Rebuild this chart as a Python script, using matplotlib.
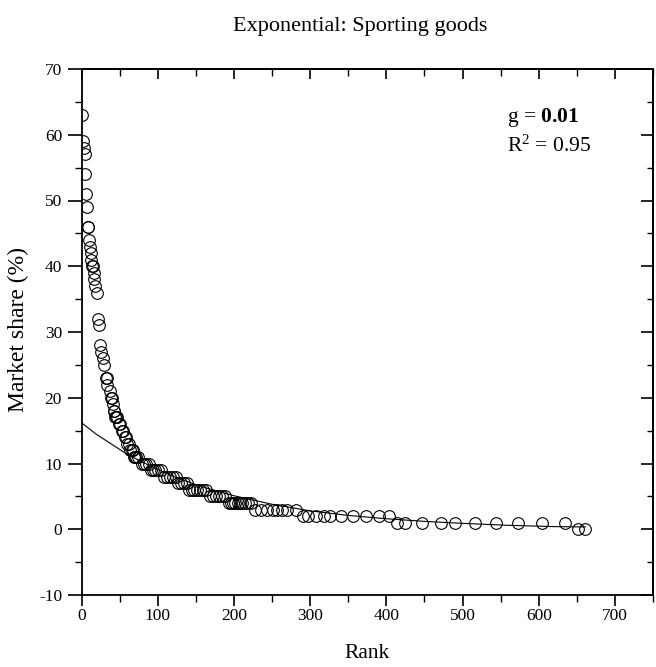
import matplotlib
matplotlib.use("Agg")
import matplotlib.pyplot as plt
from matplotlib.ticker import MultipleLocator

plt.rcParams['font.family'] = ['Liberation Serif', 'DejaVu Serif']
plt.rcParams['mathtext.fontset'] = 'custom'
plt.rcParams['mathtext.rm'] = 'Liberation Serif'
plt.rcParams['mathtext.it'] = 'Liberation Serif:italic'
plt.rcParams['mathtext.bf'] = 'Liberation Serif:bold'
plt.rcParams['axes.unicode_minus'] = False

# ---- data ----
share_rows = {
    63: [1], 59: [2], 58: [3], 57: [4], 54: [5], 51: [6], 49: [7],
    46: [8, 9], 44: [10], 43: [11], 42: [12], 41: [13], 40: [14, 15],
    39: [16], 38: [17], 37: [18], 36: [20], 32: [21], 31: [23],
    28: [24], 27: [26], 26: [28], 25: [30], 23: [32, 33], 22: [34],
    21: [37], 20: [39, 40], 19: [41], 18: [42, 43], 17: [44, 45, 47],
    16: [49, 51], 15: [53, 55], 14: [57, 58], 13: [60, 62],
    12: [64, 66, 68], 11: [69, 70, 72, 74], 10: [79, 82, 85, 88],
    9: [91, 94, 97, 100, 104], 8: [108, 112, 116, 120, 124],
    7: [127, 131, 135, 139], 6: [141, 145, 148, 152, 156, 160, 164],
    5: [168, 172, 176, 180, 184, 188],
    4: [193, 196, 199, 202, 205, 208, 211, 214, 218, 222],
    3: [228, 236, 244, 251, 257, 263, 270, 281],
    2: [291, 297, 308, 318, 326, 340, 356, 373, 390, 404],
    1: [414, 425, 447, 472, 490, 516, 544, 573, 604, 634],
    0: [652, 661],
}
rank = []
share = []
for v, rs in share_rows.items():
    for r in rs:
        rank.append(r)
        share.append(v)

fit_rank = [0, 20, 40, 60, 80, 100, 130, 160, 200, 250, 300, 350, 400, 450, 500, 560, 620, 661]
fit_share = [16.2, 14.4, 12.9, 11.4, 10.2, 9.1, 7.6, 6.4, 5.1, 3.8, 2.8, 2.1, 1.6, 1.2, 0.9, 0.6, 0.4, 0.35]

title = "Exponential: Sporting goods"
xlabel = "Rank"
ylabel = "Market share (%)"
g_text = "g = $\\mathbf{0.01}$"
r2_text = "R$^2$ = 0.95"

W, H = 656, 667
fig = plt.figure(figsize=(W / 100, H / 100), dpi=100)
left, right, top, bottom = 81.5, 653, 69, 595
ax = fig.add_axes([left / W, 1 - bottom / H, (right - left) / W, (bottom - top) / H])

ax.plot(fit_rank, fit_share, color='black', lw=0.8, zorder=2)
ax.plot(rank, share, linestyle='none', marker='o', ms=8.4, mfc='none',
        mec='black', mew=0.8, zorder=3)

ax.set_xlim(0, 750)
ax.set_ylim(-10, 70)
ax.xaxis.set_major_locator(MultipleLocator(100))
ax.xaxis.set_minor_locator(MultipleLocator(50))
ax.yaxis.set_major_locator(MultipleLocator(10))
ax.yaxis.set_minor_locator(MultipleLocator(5))
ax.set_xticks(range(0, 701, 100))
for s in ax.spines.values():
    s.set_linewidth(1.3)

ax.tick_params(axis='both', which='major', direction='out', length=8, width=1.2,
               labelsize=12.5)
ax.tick_params(axis='x', which='major', pad=1.5)
ax.tick_params(axis='y', which='major', pad=4, length=10)
ax.tick_params(axis='x', which='minor', direction='out', length=5, width=1.0)
ax.tick_params(axis='y', which='minor', direction='out', length=5, width=1.0)

sec_x = ax.secondary_xaxis('top')
sec_x.xaxis.set_major_locator(MultipleLocator(100))
sec_x.xaxis.set_minor_locator(MultipleLocator(50))
sec_x.tick_params(which='major', direction='in', length=7, width=1.2, labeltop=False)
sec_x.tick_params(which='minor', direction='in', length=5, width=1.0)
sec_x.spines['top'].set_linewidth(1.3)

sec_y = ax.secondary_yaxis('right')
sec_y.yaxis.set_major_locator(MultipleLocator(10))
sec_y.yaxis.set_minor_locator(MultipleLocator(5))
sec_y.tick_params(which='major', direction='in', length=9, width=1.2, labelright=False)
sec_y.tick_params(which='minor', direction='in', length=4, width=1.0)
sec_y.spines['right'].set_linewidth(1.3)

fig.text(360 / W, 1 - 27 / H, title, ha='center', va='center', fontsize=16)
fig.text(367 / W, 1 - 653 / H, xlabel, ha='center', va='center', fontsize=15.5)
fig.text(18 / W, 1 - 330 / H, ylabel, ha='center', va='center', rotation=90, fontsize=17)
fig.text(507 / W, 1 - 122 / H, g_text, ha='left', va='baseline', fontsize=15.5)
fig.text(507 / W, 1 - 152 / H, r2_text, ha='left', va='baseline', fontsize=15.5)

fig.savefig("out.png", dpi=100)
